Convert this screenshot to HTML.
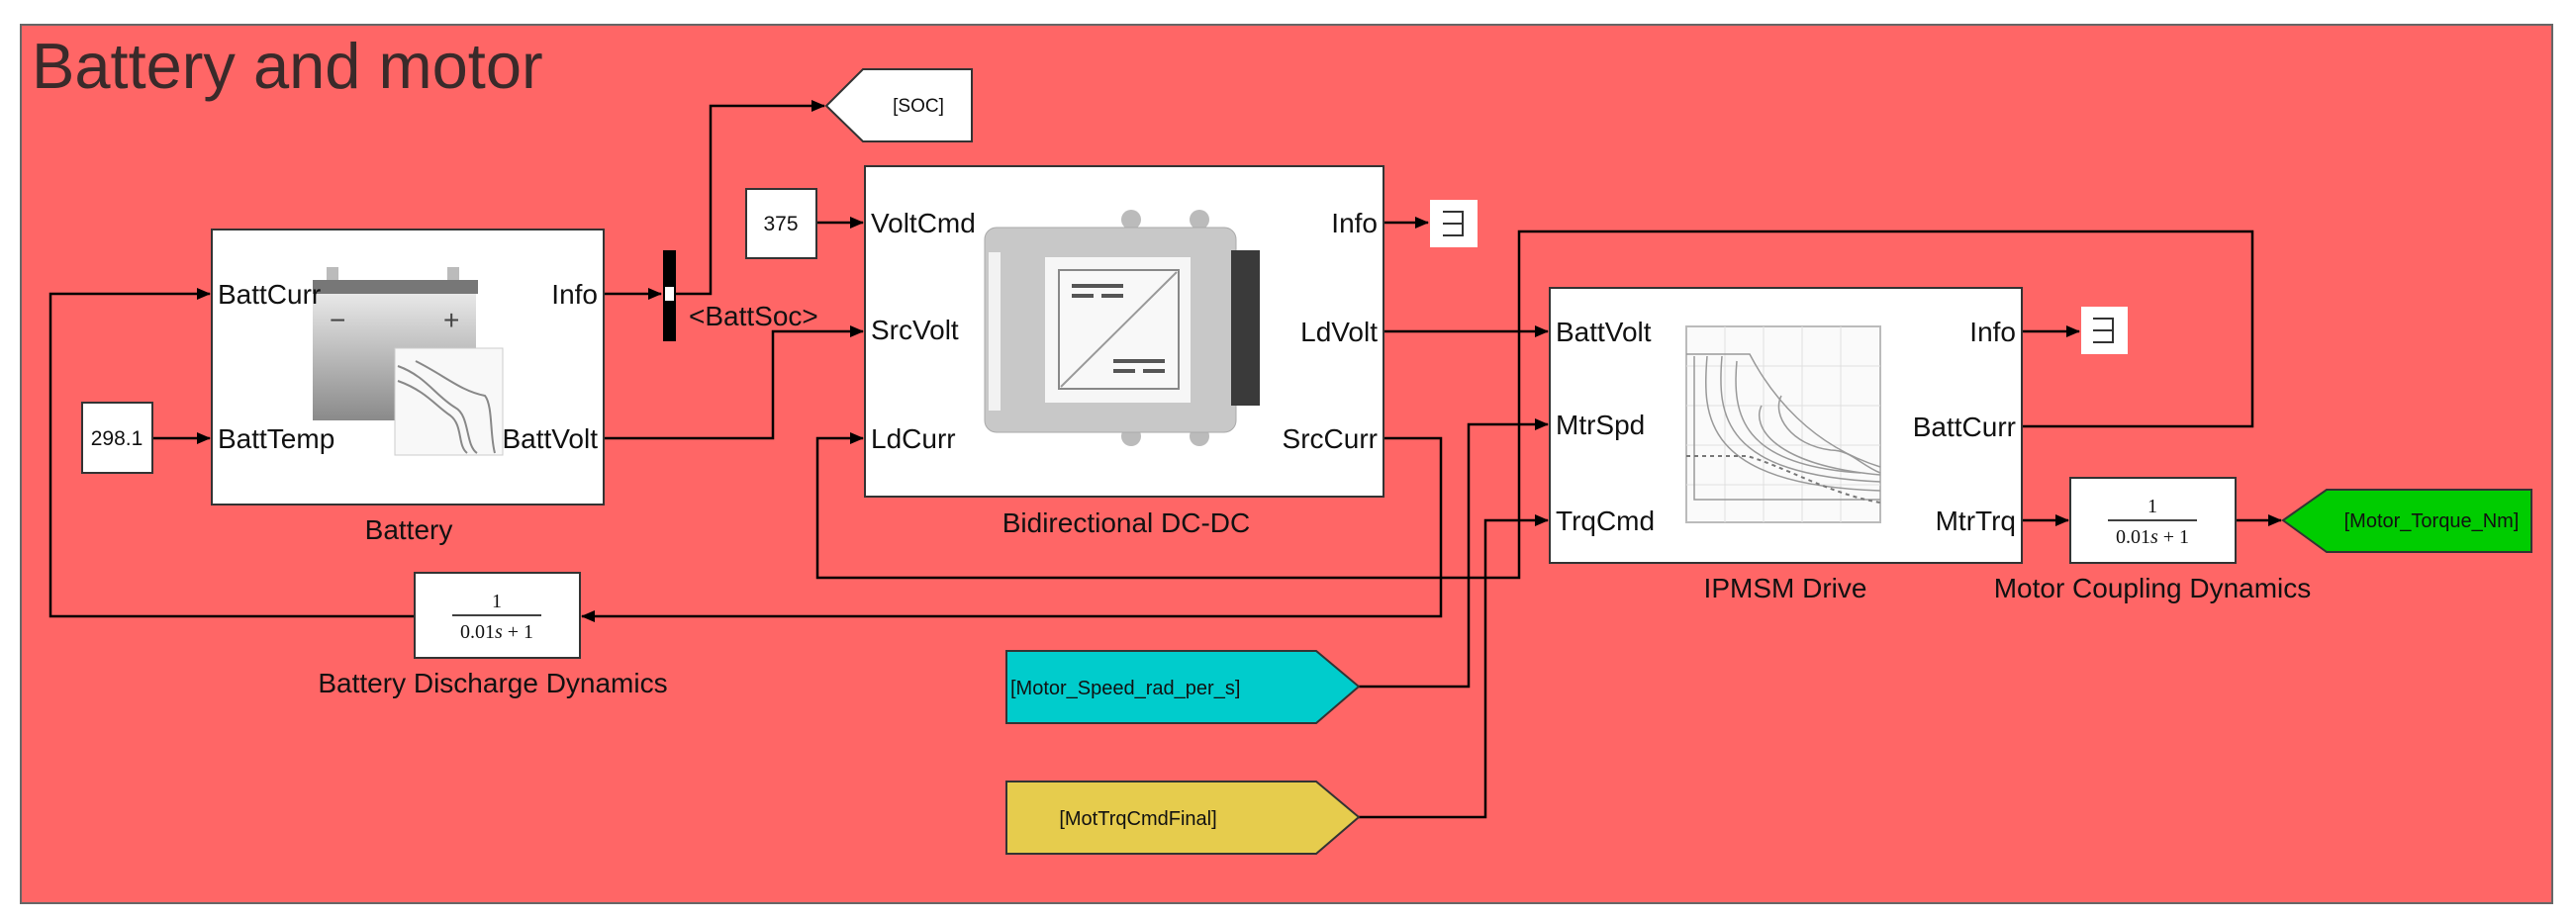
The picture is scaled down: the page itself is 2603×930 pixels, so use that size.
<!DOCTYPE html>
<html><head><meta charset="utf-8"><style>
html,body{margin:0;padding:0;background:#fff}
svg{display:block}
text{font-family:"Liberation Sans",sans-serif;fill:#111}
</style></head><body>
<svg width="2603" height="930" viewBox="0 0 2603 930" xmlns="http://www.w3.org/2000/svg">
<defs>
<marker id="a" markerWidth="14" markerHeight="12" refX="13" refY="6" orient="auto" markerUnits="userSpaceOnUse" viewBox="0 0 14 12">
<path d="M0,0 L14,6 L0,12 z" fill="#000"/></marker>
<linearGradient id="bg" x1="0" y1="0" x2="0" y2="1"><stop offset="0" stop-color="#e8e8e8"/><stop offset="1" stop-color="#8a8a8a"/></linearGradient>
</defs>
<rect x="21" y="25" width="2558" height="888" fill="#ff6666" stroke="#666" stroke-width="2"/>
<text x="32" y="89" font-size="65" style="fill:#3a2a2a">Battery and motor</text>

<g fill="none" stroke="#000" stroke-width="2.5">
<polyline points="419,623 51,623 51,297 212,297" marker-end="url(#a)"/>
<polyline points="154,443 212,443" marker-end="url(#a)"/>
<polyline points="610,297 668,297" marker-end="url(#a)"/>
<polyline points="683,297 718,297 718,107 833,107" marker-end="url(#a)"/>
<polyline points="610,443 781,443 781,335 872,335" marker-end="url(#a)"/>
<polyline points="825,225 872,225" marker-end="url(#a)"/>
<polyline points="1398,225 1443,225" marker-end="url(#a)"/>
<polyline points="1398,335 1564,335" marker-end="url(#a)"/>
<polyline points="1398,443 1456,443 1456,623 588,623" marker-end="url(#a)"/>
<polyline points="2043,431 2276,431 2276,234 1535,234 1535,584 826,584 826,443 872,443" marker-end="url(#a)"/>
<polyline points="1373,694 1484,694 1484,429 1564,429" marker-end="url(#a)"/>
<polyline points="1373,826 1501,826 1501,526 1564,526" marker-end="url(#a)"/>
<polyline points="2043,335 2101,335" marker-end="url(#a)"/>
<polyline points="2043,526 2090,526" marker-end="url(#a)"/>
<polyline points="2259,526 2305,526" marker-end="url(#a)"/>
</g>

<rect x="83" y="407" width="71" height="71" fill="#fff" stroke="#333" stroke-width="2"/>
<text x="118" y="450" font-size="21" text-anchor="middle">298.1</text>
<rect x="754" y="191" width="71" height="70" fill="#fff" stroke="#333" stroke-width="2"/>
<text x="789" y="233" font-size="21" text-anchor="middle">375</text>

<rect x="214" y="232" width="396" height="278" fill="#fff" stroke="#333" stroke-width="2"/>
<rect x="330" y="270" width="12" height="14" fill="#bbb"/><rect x="452" y="270" width="12" height="14" fill="#bbb"/>
<rect x="316" y="283" width="167" height="14" fill="#777"/>
<rect x="316" y="297" width="165" height="128" fill="url(#bg)"/>
<text x="333" y="333" font-size="28" style="fill:#444">−</text><text x="448" y="333" font-size="28" style="fill:#444">+</text>
<rect x="399" y="352" width="109" height="108" fill="#f8f8f8" stroke="#ccc"/>
<path d="M402,370 C430,380 440,400 460,412 C475,420 470,450 482,458 M402,385 C430,395 440,410 455,420 C468,430 462,450 472,458 M420,365 C450,380 465,395 490,400 C498,410 495,440 500,458" fill="none" stroke="#888" stroke-width="2"/>
<text x="220" y="307" font-size="28">BattCurr</text>
<text x="220" y="453" font-size="28">BattTemp</text>
<text x="604" y="307" font-size="28" text-anchor="end">Info</text>
<text x="604" y="453" font-size="28" text-anchor="end">BattVolt</text>
<text x="413" y="545" font-size="28" text-anchor="middle">Battery</text>

<rect x="670" y="253" width="13" height="92" fill="#000"/>
<rect x="672" y="290" width="9" height="14" fill="#fff"/>
<text x="696" y="329" font-size="28">&lt;BattSoc&gt;</text>

<polygon points="835,107 872,70 982,70 982,143 872,143" fill="#fff" stroke="#333" stroke-width="2"/>
<text x="928" y="113" font-size="19" text-anchor="middle">[SOC]</text>

<rect x="419" y="579" width="167" height="86" fill="#fff" stroke="#333" stroke-width="2"/>
<text x="502" y="614" font-size="20" text-anchor="middle" style="font-family:'Liberation Serif',serif">1</text>
<line x1="457" y1="622" x2="547" y2="622" stroke="#000" stroke-width="1.5"/>
<text x="502" y="645" font-size="20" text-anchor="middle" style="font-family:'Liberation Serif',serif">0.01<tspan font-style="italic">s</tspan> + 1</text>
<text x="498" y="700" font-size="28" text-anchor="middle">Battery Discharge Dynamics</text>

<rect x="874" y="168" width="524" height="334" fill="#fff" stroke="#333" stroke-width="2"/>
<circle cx="1143" cy="222" r="10" fill="#bbb"/><circle cx="1212" cy="222" r="10" fill="#bbb"/>
<circle cx="1143" cy="441" r="10" fill="#bbb"/><circle cx="1212" cy="441" r="10" fill="#bbb"/>
<rect x="995" y="230" width="254" height="207" rx="12" fill="#c8c8c8" stroke="#aaa"/>
<rect x="999" y="255" width="12" height="160" fill="#f2f2f2"/>
<rect x="1244" y="253" width="29" height="157" fill="#3a3a3a"/>
<rect x="1056" y="260" width="147" height="147" fill="#f6f6f6"/>
<rect x="1070" y="273" width="121" height="120" fill="#f8f8f8" stroke="#888" stroke-width="2"/>
<line x1="1072" y1="391" x2="1189" y2="275" stroke="#999" stroke-width="2"/>
<rect x="1083" y="287" width="52" height="4" fill="#555"/><rect x="1083" y="297" width="22" height="4" fill="#555"/><rect x="1113" y="297" width="22" height="4" fill="#555"/>
<rect x="1125" y="363" width="52" height="4" fill="#555"/><rect x="1125" y="373" width="22" height="4" fill="#555"/><rect x="1155" y="373" width="22" height="4" fill="#555"/>
<text x="880" y="235" font-size="28">VoltCmd</text>
<text x="880" y="343" font-size="28">SrcVolt</text>
<text x="880" y="453" font-size="28">LdCurr</text>
<text x="1392" y="235" font-size="28" text-anchor="end">Info</text>
<text x="1392" y="345" font-size="28" text-anchor="end">LdVolt</text>
<text x="1392" y="453" font-size="28" text-anchor="end">SrcCurr</text>
<text x="1138" y="538" font-size="28" text-anchor="middle">Bidirectional DC-DC</text>

<rect x="1445" y="202" width="48" height="48" fill="#fff"/>
<path d="M1458,214 H1478 V238 H1458 M1458,226 H1478" fill="none" stroke="#333" stroke-width="2"/>
<rect x="2103" y="310" width="47" height="48" fill="#fff"/>
<path d="M2115,322 H2135 V346 H2115 M2115,334 H2135" fill="none" stroke="#333" stroke-width="2"/>

<rect x="1566" y="291" width="477" height="278" fill="#fff" stroke="#333" stroke-width="2"/>
<rect x="1704" y="330" width="196" height="198" fill="#fafafa" stroke="#bbb" stroke-width="2"/>
<g stroke="#e0e0e0" stroke-width="1"><line x1="1743" y1="330" x2="1743" y2="528"/><line x1="1782" y1="330" x2="1782" y2="528"/><line x1="1821" y1="330" x2="1821" y2="528"/><line x1="1860" y1="330" x2="1860" y2="528"/><line x1="1704" y1="370" x2="1900" y2="370"/><line x1="1704" y1="410" x2="1900" y2="410"/><line x1="1704" y1="450" x2="1900" y2="450"/><line x1="1704" y1="490" x2="1900" y2="490"/></g>
<path d="M1704,358 H1768 C1790,400 1830,450 1900,472 M1712,360 V505 H1900 M1725,360 C1720,420 1720,490 1900,496 M1740,360 C1735,420 1740,480 1900,487 M1755,365 C1750,420 1760,470 1880,478 M1780,410 C1770,430 1790,470 1900,480 M1800,400 C1790,420 1810,450 1850,455 C1870,455 1880,470 1900,478" fill="none" stroke="#999" stroke-width="1.5"/>
<path d="M1704,461 H1765 C1800,470 1850,500 1900,508" fill="none" stroke="#777" stroke-width="2" stroke-dasharray="4,4"/>
<text x="1572" y="345" font-size="28">BattVolt</text>
<text x="1572" y="439" font-size="28">MtrSpd</text>
<text x="1572" y="536" font-size="28">TrqCmd</text>
<text x="2037" y="345" font-size="28" text-anchor="end">Info</text>
<text x="2037" y="441" font-size="28" text-anchor="end">BattCurr</text>
<text x="2037" y="536" font-size="28" text-anchor="end">MtrTrq</text>
<text x="1804" y="604" font-size="28" text-anchor="middle">IPMSM Drive</text>

<rect x="2092" y="483" width="167" height="86" fill="#fff" stroke="#333" stroke-width="2"/>
<text x="2175" y="518" font-size="20" text-anchor="middle" style="font-family:'Liberation Serif',serif">1</text>
<line x1="2130" y1="526" x2="2220" y2="526" stroke="#000" stroke-width="1.5"/>
<text x="2175" y="549" font-size="20" text-anchor="middle" style="font-family:'Liberation Serif',serif">0.01<tspan font-style="italic">s</tspan> + 1</text>
<text x="2175" y="604" font-size="28" text-anchor="middle">Motor Coupling Dynamics</text>

<polygon points="2307,526 2351,495 2558,495 2558,558 2351,558" fill="#00cc00" stroke="#333" stroke-width="2"/>
<text x="2457" y="533" font-size="20" text-anchor="middle">[Motor_Torque_Nm]</text>

<polygon points="1017,658 1330,658 1373,694 1330,731 1017,731" fill="#00cccc" stroke="#333" stroke-width="2"/>
<text x="1021" y="702" font-size="20">[Motor_Speed_rad_per_s]</text>
<polygon points="1017,790 1330,790 1373,826 1330,863 1017,863" fill="#e6cc4d" stroke="#333" stroke-width="2"/>
<text x="1150" y="834" font-size="20" text-anchor="middle">[MotTrqCmdFinal]</text>
</svg>
</body></html>
